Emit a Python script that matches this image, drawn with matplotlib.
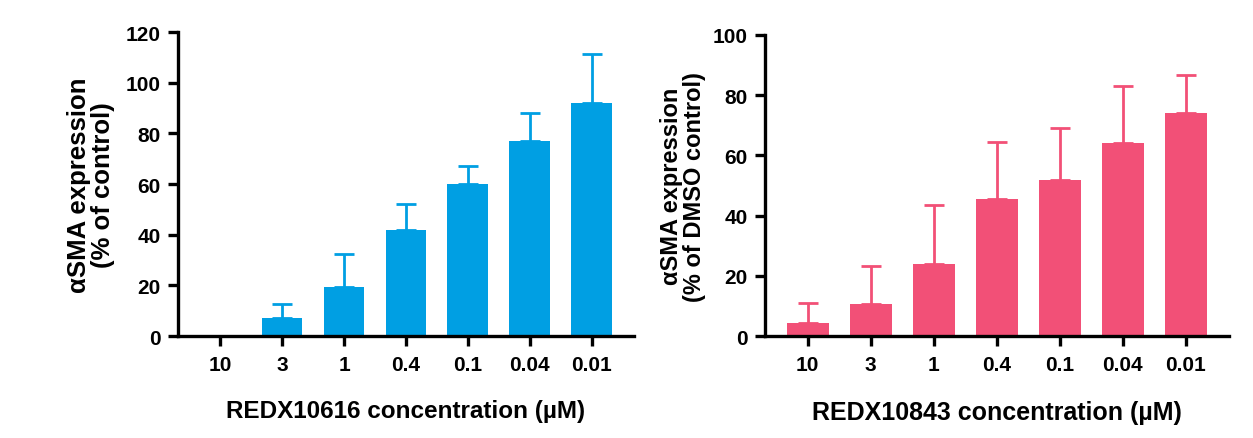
import numpy as np
import matplotlib.pyplot as plt

plt.rcParams['font.family'] = ['Liberation Sans', 'DejaVu Sans']
plt.rcParams['font.weight'] = 'bold'

# Data
concs = ['10', '3', '1', '0.4', '0.1', '0.04', '0.01']
redx10616_mean = [0, 7, 19.5, 42, 60, 77, 92]
redx10616_err = [0, 5.5, 13, 10, 7, 11, 19.5]
redx10843_mean = [4.3, 10.8, 24, 45.6, 52, 64.3, 74]
redx10843_err = [6.7, 12.4, 19.5, 18.9, 17, 18.7, 12.8]

blue = '#009FE3'
pink = '#F25077'

fig = plt.figure(figsize=(12.53, 4.39), dpi=100)
ax1 = fig.add_axes([0.142, 0.2323, 0.364, 0.6925])
ax2 = fig.add_axes([0.6105, 0.232, 0.370, 0.686])


def draw(ax, means, errs, color, ymax, ystep, ylabel, xlabel, ylsize, xlsize, ylx, xlpad):
    x = np.arange(len(concs))
    ax.bar(x, means, width=0.66, color=color, zorder=2)
    ax.errorbar(x, means, yerr=[np.zeros(len(errs)), errs], fmt='none',
                ecolor=color, elinewidth=2, capsize=7.5, capthick=2, zorder=1)
    ax.set_xlim(-0.68, len(concs) - 1 + 0.68)
    ax.set_ylim(0, ymax)
    ax.set_yticks(np.arange(0, ymax + 1, ystep))
    ax.set_xticks(x)
    ax.set_xticklabels(concs)
    for s in ['top', 'right']:
        ax.spines[s].set_visible(False)
    for s in ['left', 'bottom']:
        ax.spines[s].set_linewidth(2.4)
    ax.tick_params(width=2.4, length=7.5, labelsize=15)
    ax.tick_params(axis='x', pad=6)
    ax.tick_params(axis='y', pad=5)
    ax.set_ylabel(ylabel, fontsize=ylsize, fontweight='bold', linespacing=1.0)
    ax.yaxis.set_label_coords(ylx, 0.5)
    ax.set_xlabel(xlabel, fontsize=xlsize, fontweight='bold', labelpad=xlpad)
    for lab in ax.get_xticklabels() + ax.get_yticklabels():
        lab.set_fontweight('bold')


draw(ax1, redx10616_mean, redx10616_err, blue, 120, 20,
     'αSMA expression\n(% of control)', 'REDX10616 concentration (µM)',
     18.5, 17.5, -0.138, 18)
draw(ax2, redx10843_mean, redx10843_err, pink, 100, 20,
     'αSMA expression\n(% of DMSO control)', 'REDX10843 concentration (µM)',
     17, 18, -0.127, 19)

fig.savefig('out.png', dpi=100)
